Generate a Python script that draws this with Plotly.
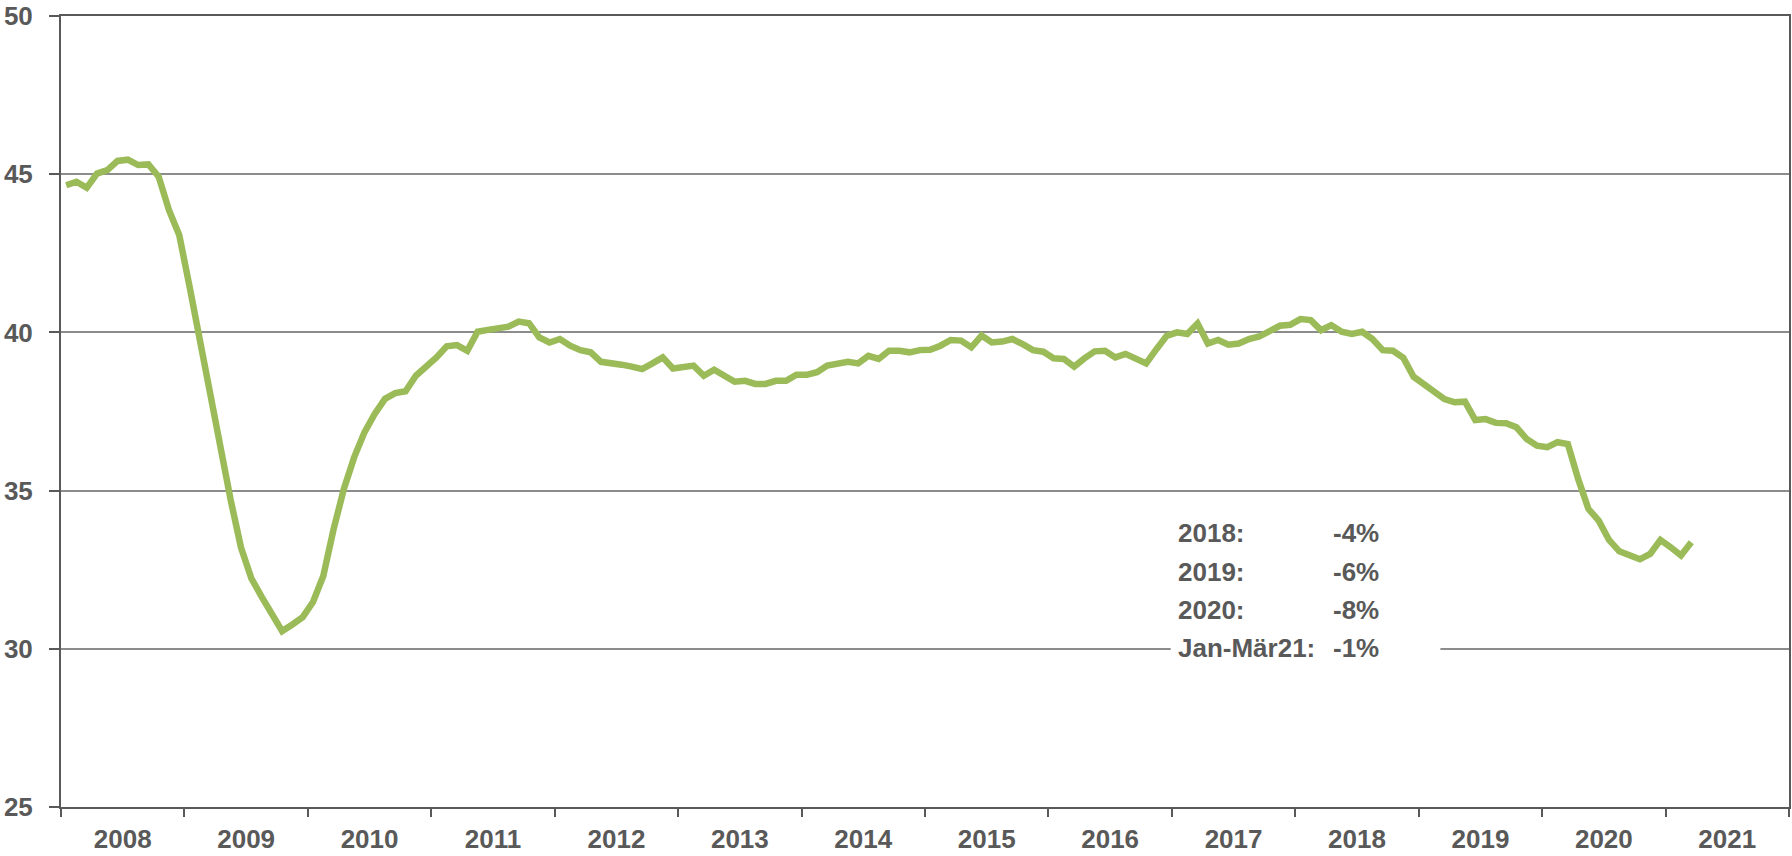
import plotly.graph_objects as go

# Monthly values, Jan 2008 .. Mar 2021
values = [
    44.65, 44.76, 44.57, 45.02, 45.13, 45.42, 45.46, 45.29, 45.31, 44.92, 43.86, 43.07,  # 2008
    41.45, 39.75, 38.15, 36.3, 34.7, 33.2, 32.23, 31.65, 31.07, 30.56, 30.77, 31.0,     # 2009
    31.48, 32.3, 33.78, 35.05, 36.05, 36.84, 37.42, 37.9, 38.08, 38.14, 38.63, 38.9,    # 2010
    39.21, 39.56, 39.6, 39.42, 40.02, 40.08, 40.14, 40.18, 40.34, 40.29, 39.84, 39.68,  # 2011
    39.79, 39.58, 39.44, 39.37, 39.07, 39.05, 38.98, 38.92, 38.84, 39.02, 39.21, 38.86,  # 2012
    38.92, 38.95, 38.63, 38.82, 38.63, 38.44, 38.47, 38.37, 38.37, 38.47, 38.47, 38.66,  # 2013
    38.66, 38.74, 38.95, 39.0, 39.07, 39.02, 39.26, 39.16, 39.42, 39.42, 39.37, 39.44,   # 2014
    39.45, 39.58, 39.76, 39.74, 39.53, 39.9, 39.68, 39.71, 39.79, 39.63, 39.44, 39.39,   # 2015
    39.18, 39.16, 38.92, 39.18, 39.4, 39.42, 39.21, 39.32, 39.16, 39.02, 39.47, 39.89,   # 2016
    40.0, 39.95, 40.28, 39.65, 39.76, 39.61, 39.65, 39.79, 39.87, 40.07, 40.21, 40.24,   # 2017
    40.42, 40.39, 40.07, 40.23, 40.02, 39.95, 40.02, 39.79, 39.44, 39.42, 39.2, 38.6,    # 2018
    38.38, 38.12, 37.89, 37.79, 37.81, 37.23, 37.26, 37.14, 37.13, 37.0, 36.63, 36.42,   # 2019
    36.37, 36.53, 36.47, 35.37, 34.42, 34.05, 33.44, 33.08, 32.95, 32.83, 33.0, 33.44,   # 2020
    33.21, 32.95, 33.37,                                                                  # 2021
]
years = ["2008", "2009", "2010", "2011", "2012", "2013", "2014",
         "2015", "2016", "2017", "2018", "2019", "2020", "2021"]
y_ticks = [25, 30, 35, 40, 45, 50]

note_labels = ["2018:", "2019:", "2020:", "Jan-Mär21:"]
note_values = ["-4%", "-6%", "-8%", "-1%"]

months = list(range(len(values)))
year_centers = [12 * k + 5.5 for k in range(len(years))]

FONT = "Liberation Sans Narrow, Arial Narrow, Liberation Sans, Arial, sans-serif"
GREY = "#595959"
FS = 26

fig = go.Figure()
fig.add_trace(go.Scatter(
    x=months, y=values, mode="lines",
    line=dict(color="#9BBB59", width=6.5),
    hoverinfo="skip", showlegend=False,
))

W, H = 1792, 856
L, R, T, B = 61, 1, 15, 49

fig.update_layout(
    width=W, height=H,
    margin=dict(l=L, r=R, t=T, b=B),
    paper_bgcolor="white", plot_bgcolor="white",
    font=dict(family=FONT, color=GREY),
    xaxis=dict(
        range=[-0.5, 12 * len(years) - 0.5],
        tickmode="array", tickvals=year_centers, ticktext=years,
        ticks="", showgrid=False, zeroline=False,
        showline=True, linecolor=GREY, linewidth=2, mirror=True,
        tickfont=dict(family=FONT, size=FS, color=GREY, weight="bold"),
        ticklabelstandoff=8,
        minor=dict(tick0=-0.5, dtick=12, ticks="outside", ticklen=8,
                   tickwidth=2, tickcolor=GREY, showgrid=False),
    ),
    yaxis=dict(
        range=[25, 50], tickmode="array", tickvals=y_ticks,
        ticks="outside", ticklen=10, tickwidth=2, tickcolor=GREY,
        showgrid=True, gridcolor="#8C8C8C", gridwidth=2,
        zeroline=False,
        showline=True, linecolor=GREY, linewidth=2, mirror=True,
        tickfont=dict(family=FONT, size=FS, color=GREY, weight="bold"),
        ticklabelstandoff=11,
    ),
)

plot_w = W - L - R
plot_h = H - T - B

def px_x(px):
    return (px - L) / plot_w

def px_y(py):
    return (H - B - py) / plot_h

# white box behind the note, interrupting the 30 gridline
fig.add_shape(type="rect", xref="paper", yref="paper",
              x0=px_x(1172), x1=px_x(1442), y0=px_y(672), y1=px_y(508),
              fillcolor="white", line=dict(width=0), layer="above")

row_y = [533, 572, 610, 648]
for lab, val, ry in zip(note_labels, note_values, row_y):
    fig.add_annotation(xref="paper", yref="paper", x=px_x(1177), y=px_y(ry),
                       text=lab, showarrow=False, xanchor="left", yanchor="middle",
                       font=dict(family=FONT, size=FS, color=GREY, weight="bold"))
    fig.add_annotation(xref="paper", yref="paper", x=px_x(1332), y=px_y(ry),
                       text=val, showarrow=False, xanchor="left", yanchor="middle",
                       font=dict(family=FONT, size=FS, color=GREY, weight="bold"))

fig.write_html(
    "out.html",
    config={"displayModeBar": False},
    post_script="document.body.style.margin='0';document.body.style.overflow='hidden';",
)
